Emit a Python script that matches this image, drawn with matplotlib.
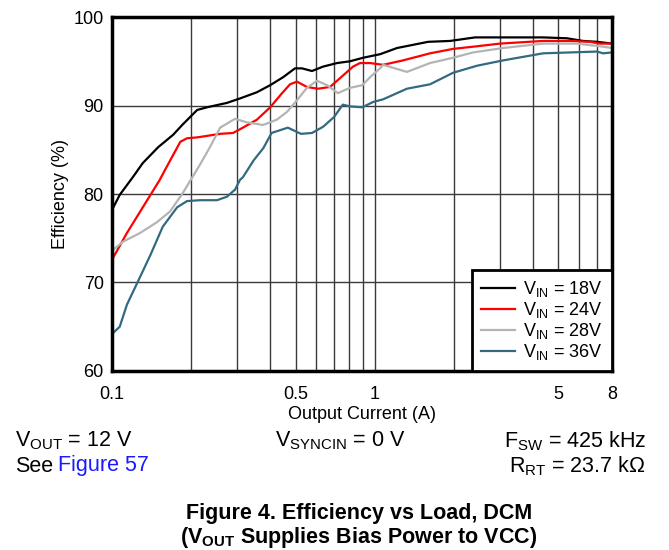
import numpy as np
import matplotlib
matplotlib.use("Agg")
import matplotlib.pyplot as plt

plt.rcParams["font.family"] = ["Liberation Sans", "DejaVu Sans"]
plt.rcParams["mathtext.fontset"] = "custom"
plt.rcParams["mathtext.rm"] = "Liberation Sans"
plt.rcParams["mathtext.it"] = "Liberation Sans"
plt.rcParams["mathtext.bf"] = "Liberation Sans:bold"

  # data
x18 = [0.100, 0.107, 0.120, 0.131, 0.150, 0.171, 0.185, 0.211, 0.230, 0.274, 0.307, 0.356,
       0.400, 0.448, 0.497, 0.529, 0.577, 0.636, 0.719, 0.805, 0.903, 1.048, 1.216, 1.596,
       1.936, 2.409, 3.079, 4.373, 5.395, 6.209, 7.02, 8.0]
y18 = [78.2, 79.9, 81.9, 83.5, 85.3, 86.7, 87.8, 89.5, 89.8, 90.3, 90.8, 91.5,
       92.3, 93.2, 94.2, 94.2, 93.9, 94.4, 94.8, 95.0, 95.4, 95.8, 96.5, 97.2,
       97.3, 97.7, 97.7, 97.7, 97.6, 97.3, 97.2, 97.0]

x24 = [0.101, 0.114, 0.131, 0.152, 0.159, 0.182, 0.193, 0.211, 0.258, 0.289, 0.315, 0.356,
       0.400, 0.444, 0.476, 0.506, 0.552, 0.608, 0.676, 0.738, 0.827, 0.879, 0.960, 1.076,
       1.281, 1.624, 1.986, 2.452, 2.999, 4.373, 5.54, 6.60, 7.20, 8.0]
y24 = [72.8, 75.6, 78.5, 81.6, 82.7, 85.9, 86.3, 86.4, 86.8, 86.9, 87.5, 88.4,
       89.8, 91.4, 92.4, 92.7, 92.1, 91.9, 92.1, 93.1, 94.4, 94.8, 94.8, 94.6,
       95.1, 95.9, 96.4, 96.7, 97.0, 97.3, 97.3, 97.2, 97.0, 97.0]

x28 = [0.101, 0.110, 0.128, 0.148, 0.166, 0.185, 0.216, 0.236, 0.258, 0.294, 0.326, 0.376,
       0.424, 0.464, 0.506, 0.552, 0.603, 0.658, 0.724, 0.805, 0.897, 0.960, 1.048, 1.076,
       1.326, 1.624, 1.986, 2.366, 3.079, 4.373, 5.87, 7.20, 8.0]
y28 = [73.7, 74.6, 75.6, 76.8, 78.0, 80.0, 83.3, 85.3, 87.5, 88.5, 88.1, 87.8,
       88.4, 89.3, 90.6, 92.0, 92.8, 92.3, 91.4, 92.0, 92.3, 93.2, 94.2, 94.6,
       93.8, 94.8, 95.4, 96.0, 96.5, 97.0, 97.0, 96.7, 96.5]

x36 = [0.101, 0.107, 0.114, 0.125, 0.140, 0.156, 0.177, 0.193, 0.216, 0.251, 0.274, 0.294,
       0.307, 0.315, 0.346, 0.377, 0.405, 0.467, 0.524, 0.577, 0.636, 0.700, 0.756, 0.805,
       0.897, 0.985, 1.076, 1.326, 1.624, 1.986, 2.452, 3.079, 4.373, 5.54, 7.02, 7.40, 8.0]
y36 = [64.3, 65.0, 67.5, 70.0, 73.1, 76.3, 78.5, 79.2, 79.3, 79.3, 79.7, 80.5,
       81.6, 81.9, 83.8, 85.2, 86.9, 87.5, 86.8, 86.9, 87.6, 88.7, 90.1, 89.9,
       89.8, 90.4, 90.7, 91.9, 92.4, 93.7, 94.5, 95.1, 95.9, 96.0, 96.1, 95.9, 96.0]

series = [(x18, y18, "#000000", "18V"),
          (x24, y24, "#ff0000", "24V"),
          (x28, y28, "#b4b4b4", "28V"),
          (x36, y36, "#336a80", "36V")]

xticks = [0.1, 0.5, 1, 5, 8]
xticklabels = ["0.1", "0.5", "1", "5", "8"]
yticks = [60, 70, 80, 90, 100]
xgrid = [0.2, 0.3, 0.4, 0.5, 0.6, 0.7, 0.8, 0.9, 1, 2, 3, 4, 5, 6, 7]
ygrid = [70, 80, 90]

fig = plt.figure(figsize=(6.69, 5.5), dpi=100, facecolor="white")
ax = fig.add_axes([0.1674, 0.3255, 0.7474, 0.6435])

for xs, ys, col, v in series:
    ax.plot(xs, ys, color=col, linewidth=1.6, label=r"V$_{\mathrm{IN}}$ = " + v)

ax.set_xscale("log")
ax.set_xlim(0.1, 8)
ax.set_ylim(60, 100)

  # grid lines
for g in xgrid:
    ax.axvline(g, color="#3a3a3a", linewidth=1.0, zorder=0.5)
for g in ygrid:
    ax.axhline(g, color="#3a3a3a", linewidth=1.0, zorder=0.5)

ax.set_xticks(xticks)
ax.set_xticklabels(xticklabels)
ax.xaxis.set_minor_locator(matplotlib.ticker.NullLocator())
ax.set_yticks(yticks)
ax.tick_params(length=0, labelsize=13)
ax.tick_params(axis="x", pad=11)
ax.tick_params(axis="y", pad=6)
for s in ax.spines.values():
    s.set_linewidth(2.5)

ax.set_xlabel("Output Current (A)", fontsize=13, labelpad=2)
ax.set_ylabel("Efficiency (%)", fontsize=13, labelpad=3)

leg = ax.legend(loc="lower right", borderaxespad=0, fancybox=False, framealpha=1,
                edgecolor="black", fontsize=13, handlelength=1.9, labelspacing=0.05,
                handletextpad=0.45, borderpad=0.5)
leg.get_frame().set_linewidth(2.0)

  # conditions under the chart
fs = 15.5
fig.text(15/669, 1-441/550, r"V$_{\mathrm{OUT}}$ = 12 V", fontsize=fs, va="center", ha="left")
fig.text(15/669, 1-466/550, "See", fontsize=fs, va="center", ha="left")
fig.text(58/669, 1-466/550, "Figure 57", fontsize=fs, va="center", ha="left", color="#1a1aff")
fig.text(275/669, 1-441/550, r"V$_{\mathrm{SYNCIN}}$ = 0 V", fontsize=fs, va="center", ha="left")
fig.text(646/669, 1-441/550, r"F$_{\mathrm{SW}}$ = 425 kHz", fontsize=fs, va="center", ha="right")
fig.text(646/669, 1-466/550, r"R$_{\mathrm{RT}}$ = 23.7 k$\Omega$", fontsize=fs, va="center", ha="right")

fig.text(359/669, 1-514/550, "Figure 4. Efficiency vs Load, DCM", fontsize=fs,
         fontweight="bold", va="center", ha="center")
fig.text(359/669, 1-538/550, r"(V$_{\mathbf{OUT}}$ Supplies Bias Power to VCC)", fontsize=fs,
         fontweight="bold", va="center", ha="center")

fig.savefig("out.png", dpi=100, facecolor="white")
